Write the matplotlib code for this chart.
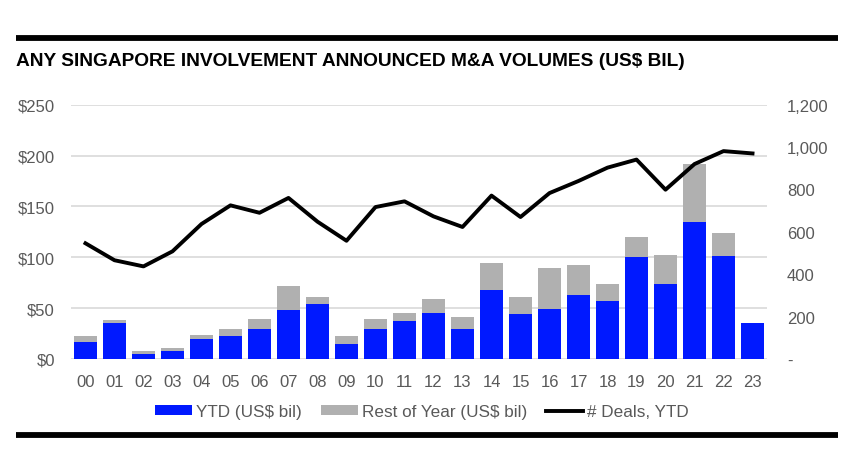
import matplotlib
matplotlib.use("Agg")
import matplotlib.pyplot as plt
from matplotlib.lines import Line2D
from matplotlib.patches import Patch
from matplotlib import font_manager as fm
import numpy as np

years = ["00","01","02","03","04","05","06","07","08","09","10","11",
         "12","13","14","15","16","17","18","19","20","21","22","23"]
ytd = [16.4, 35.2, 4.6, 7.9, 19.4, 22.4, 29.3, 48.0, 53.6, 14.8, 29.6, 37.2,
       45.7, 29.3, 67.4, 44.1, 48.7, 62.8, 57.2, 100.0, 73.7, 134.2, 101.0, 34.9]
total = [22.4, 38.8, 7.9, 11.2, 24.0, 29.9, 39.1, 71.4, 61.2, 22.7, 39.8, 45.1,
         58.6, 41.4, 94.7, 61.2, 89.8, 92.8, 73.4, 119.7, 102.3, 192.1, 123.4, 34.9]
deals = [546, 466, 437, 508, 637, 725, 690, 760, 648, 558, 717, 744,
         673, 623, 771, 670, 783, 840, 903, 941, 799, 920, 981, 970]
rest = [t - y for t, y in zip(total, ytd)]

left_ticks = [0, 50, 100, 150, 200, 250]
left_labels = ["$0", "$50", "$100", "$150", "$200", "$250"]
right_ticks = [0, 200, 400, 600, 800, 1000, 1200]
right_labels = ["-", "200", "400", "600", "800", "1,000", "1,200"]

names = {f.name for f in fm.fontManager.ttflist}
base = "Liberation Sans" if "Liberation Sans" in names else "DejaVu Sans"
plt.rcParams["font.family"] = [base, "DejaVu Sans"]

BLUE = "#0019FF"
GRAY = "#B0B0B0"
TXT = "#595959"

fig = plt.figure(figsize=(8.48, 4.77), dpi=100)
fig.patch.set_facecolor("white")
ax = fig.add_axes([0.0837, 0.2453, 0.8208, 0.5331])
x = np.arange(len(years))
ax.bar(x, ytd, width=0.77, color=BLUE, zorder=2)
ax.bar(x, rest, width=0.77, bottom=ytd, color=GRAY, zorder=2)
ax.set_xlim(-0.5, 23.5)
ax.set_ylim(0, 250)
ax.set_yticks(left_ticks)
ax.set_yticklabels(left_labels)
ax.set_xticks(x)
ax.set_xticklabels(years)
ax.grid(axis="y", color="#D9D9D9", linewidth=1.2, zorder=0)
for s in ax.spines.values():
    s.set_visible(False)
ax.tick_params(axis="both", length=0, labelsize=12, labelcolor=TXT)
ax.tick_params(axis="y", pad=11.5)
ax.tick_params(axis="x", pad=10.5)

ax2 = ax.twinx()
ax2.plot(x, deals, color="black", linewidth=2.8, zorder=3)
ax2.set_ylim(0, 1200)
ax2.set_yticks(right_ticks)
ax2.set_yticklabels(right_labels)
for s in ax2.spines.values():
    s.set_visible(False)
ax2.tick_params(axis="y", length=0, labelsize=12, labelcolor=TXT, pad=14.4)

# title and rules
fig.add_artist(Line2D([16/848, 838/848], [1-38.5/477, 1-38.5/477], color="black",
                      linewidth=4.2, solid_capstyle="butt", transform=fig.transFigure))
fig.add_artist(Line2D([16/848, 838/848], [1-435.5/477, 1-435.5/477], color="black",
                      linewidth=4.2, solid_capstyle="butt", transform=fig.transFigure))
fig.text(16/848, 1-62/477, "ANY SINGAPORE INVOLVEMENT ANNOUNCED M&A VOLUMES (US$ BIL)",
         fontsize=13.8, fontweight="bold", ha="left", va="center", color="black")

handles = [Patch(facecolor=BLUE, edgecolor="none"),
           Patch(facecolor=GRAY, edgecolor="none"),
           Line2D([0], [0], color="black", linewidth=2.8)]
labels = ["YTD (US$ bil)", "Rest of Year (US$ bil)", "# Deals, YTD"]
fig.legend(handles, labels, loc="center", bbox_to_anchor=(422/848, 1-412.5/477), ncol=3,
           frameon=False, fontsize=12.3, handlelength=2.15, handleheight=0.49,
           handletextpad=0.25, columnspacing=1.1, labelcolor=TXT)

fig.savefig("out.png", dpi=100, facecolor="white")
